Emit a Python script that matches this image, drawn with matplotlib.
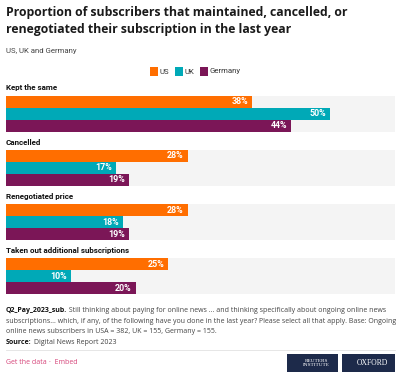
import matplotlib
matplotlib.use("Agg")
import matplotlib.pyplot as plt
from matplotlib.patches import Rectangle

#
# Data
#
categories = ["Kept the same", "Cancelled", "Renegotiated price", "Taken out additional subscriptions"]
countries = ["US", "UK", "Germany"]
us = [38, 28, 28, 25]
uk = [50, 17, 18, 10]
germany = [44, 19, 19, 20]
colors = ["#ff6e00", "#00a9b7", "#7b1657"]

title = ["Proportion of subscribers that maintained, cancelled, or",
         "renegotiated their subscription in the last year"]
subtitle = "US, UK and Germany"
note_head = "Q2_Pay_2023_sub."
note = [" Still thinking about paying for online news ... and thinking specifically about ongoing online news",
        "subscriptions... which, if any, of the following have you done in the last year? Please select all that apply. Base: Ongoing",
        "online news subscribers in USA = 382, UK = 155, Germany = 155."]

FONT = "Open Sans"
LABEL_FONT = "Roboto"
W, H = 400, 376

#
# Figure
#
fig = plt.figure(figsize=(W / 100, H / 100), dpi=100)
fig.patch.set_facecolor("white")
renderer = fig.canvas.get_renderer()

def fx(px):
    return px / W

def fy(py):
    return 1 - py / H

def width(t):
    return t.get_window_extent(renderer).width

def fit(t, target):
    # scale font so that the text is target px wide
    t.set_fontsize(t.get_fontsize() * target / width(t))

# Title
t1 = fig.text(fx(6), fy(12.5), title[0], fontsize=9.6, fontweight="bold", family=FONT,
              va="center", ha="left", color="#1a1a1a")
fit(t1, 344)
fig.text(fx(6), fy(29.5), title[1], fontsize=t1.get_fontsize(), fontweight="bold", family=FONT,
         va="center", ha="left", color="#1a1a1a")
st = fig.text(fx(6), fy(51), subtitle, fontsize=5.8, family=LABEL_FONT, va="center", ha="left", color="#444444")
fit(st, 70)

# Legend
lx = 150
for name, c in zip(countries, colors):
    fig.patches.append(Rectangle((fx(lx), fy(75.5)), fx(8), 8 / H, transform=fig.transFigure,
                                 facecolor=c, edgecolor="none"))
    t = fig.text(fx(lx + 10), fy(71.5), name, fontsize=st.get_fontsize(), family=LABEL_FONT,
                 va="center", ha="left", color="#333333")
    lx += 10 + width(t) + 5

#
# Bars
#
pitch = 54.2
bar_h = 12.0
top, bottom = 95.7, 294.5
ax = fig.add_axes([fx(6), fy(bottom), fx(389), (bottom - top) / H])
ax.set_xlim(0, 60)
ax.set_ylim(bottom - top, 0)
ax.axis("off")

probe = fig.text(0, 0, categories[-1], fontsize=6.0, fontweight="bold", family=LABEL_FONT)
fit(probe, 125)
cat_fs = probe.get_fontsize()
probe.remove()

series = [us, uk, germany]
for g, cat in enumerate(categories):
    y0 = g * pitch
    ax.barh(y0 + 1.5 * bar_h, 60, height=3 * bar_h, color="#f4f4f4", edgecolor="none")
    ax.text(0, y0 - 7.8, cat, fontsize=cat_fs, fontweight="bold", family=LABEL_FONT,
            va="center", ha="left", color="#111111", clip_on=False)
    for j, vals in enumerate(series):
        yc = y0 + bar_h * (j + 0.5)
        ax.barh(yc, vals[g], height=bar_h, color=colors[j], edgecolor="none")
        ax.text(vals[g] - 0.6, yc, "%d%%" % vals[g], fontsize=6.4, fontweight="bold", family=LABEL_FONT,
                va="center", ha="right", color="white")

#
# Footer
#
probe = fig.text(0, 0, note[1], fontsize=5.3, family=FONT)
fit(probe, 388)
fs = probe.get_fontsize()
probe.remove()

head = fig.text(fx(6), fy(311), note_head, fontsize=fs, fontweight="bold", family=FONT,
                va="center", ha="left", color="#111111")
fig.text(fx(6 + width(head)), fy(311), note[0], fontsize=fs, family=FONT,
         va="center", ha="left", color="#444444")
fig.text(fx(6), fy(321.5), note[1], fontsize=fs, family=FONT, va="center", ha="left", color="#444444")
fig.text(fx(6), fy(331.5), note[2], fontsize=fs, family=FONT, va="center", ha="left", color="#444444")

src = fig.text(fx(6), fy(342.5), "Source:", fontsize=fs, fontweight="bold", family=FONT,
               va="center", ha="left", color="#111111")
fig.text(fx(6 + width(src) + 2), fy(342.5), "Digital News Report 2023", fontsize=fs, family=FONT,
         va="center", ha="left", color="#444444")
fig.add_artist(plt.Line2D([fx(6), fx(395)], [fy(350), fy(350)], color="#e2e2e2", linewidth=0.6))

gd = fig.text(fx(6), fy(363), "Get the data", fontsize=fs, family=FONT, va="center", ha="left", color="#d6457a")
fig.text(fx(6 + width(gd) + 2), fy(363), "·  Embed", fontsize=fs, family=FONT, va="center", ha="left", color="#d6457a")

# Logos
for x0, x1, txt in [(287, 338, "REUTERS\nINSTITUTE"), (342, 395, "OXFORD")]:
    fig.patches.append(Rectangle((fx(x0), fy(372)), fx(x1 - x0), 18 / H, transform=fig.transFigure,
                                 facecolor="#1d2a4a", edgecolor="none"))
    fig.text(fx((x0 + x1) / 2 + 4), fy(363), txt, fontsize=3.8 if "\n" in txt else 5.5, family="Liberation Serif",
             va="center", ha="center", color="white", linespacing=1.0)

fig.savefig("out.png", dpi=100, facecolor="white")
